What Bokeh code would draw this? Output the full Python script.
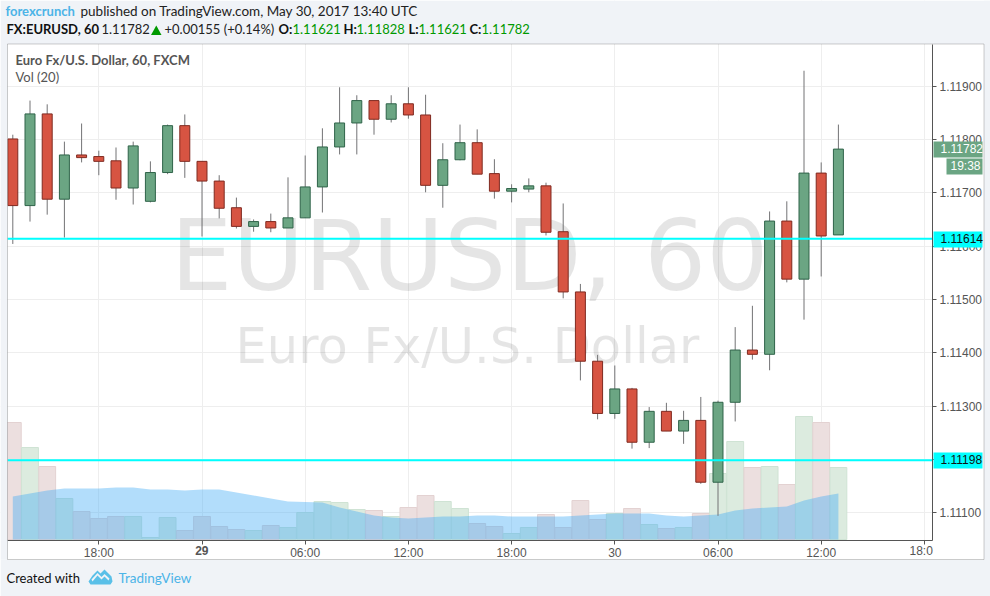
from bokeh.embed import file_html
from bokeh.resources import INLINE
from bokeh.plotting import figure
from bokeh.models import (ColumnDataSource, Range1d, FixedTicker, NumeralTickFormatter,
                          Label, BoxAnnotation, PolyAnnotation)

opens = [1.11801,1.11676,1.11848,1.11688,1.11771,1.11768,1.11760,1.11709,1.11684,1.11738,1.11826,1.11759,1.11722,1.11672,1.11637,1.11646,1.11634,1.11653,1.11711,1.11786,1.11831,1.11873,1.11838,1.11867,1.11846,1.11714,1.11762,1.11794,1.11736,1.11703,1.11707,1.11713,1.11627,1.11514,1.11384,1.11286,1.11332,1.11232,1.11290,1.11253,1.11273,1.11157,1.11307,1.11405,1.11397,1.11647,1.11538,1.11737,1.11621]
highs = [1.11809,1.11873,1.11866,1.11796,1.11830,1.11779,1.11785,1.11796,1.11759,1.11828,1.11847,1.11759,1.11733,1.11691,1.11650,1.11661,1.11729,1.11770,1.11821,1.11898,1.11883,1.11873,1.11883,1.11898,1.11884,1.11793,1.11828,1.11819,1.11763,1.11716,1.11727,1.11719,1.11680,1.11529,1.11396,1.11376,1.11334,1.11298,1.11306,1.11291,1.11317,1.11310,1.11448,1.11488,1.11665,1.11684,1.11929,1.11757,1.11828]
lows = [1.11604,1.11646,1.11659,1.11616,1.11757,1.11733,1.11687,1.11678,1.11682,1.11735,1.11728,1.11618,1.11652,1.11633,1.11627,1.11626,1.11634,1.11653,1.11663,1.11772,1.11772,1.11809,1.11832,1.11839,1.11701,1.11672,1.11761,1.11735,1.11689,1.11682,1.11701,1.11620,1.11502,1.11348,1.11275,1.11276,1.11220,1.11221,1.11253,1.11229,1.11154,1.11094,1.11271,1.11387,1.11367,1.11532,1.11462,1.11543,1.11621]
closes = [1.11676,1.11848,1.11688,1.11771,1.11766,1.11759,1.11709,1.11788,1.11738,1.11826,1.11759,1.11722,1.11671,1.11637,1.11646,1.11634,1.11653,1.11711,1.11786,1.11831,1.11873,1.11838,1.11867,1.11846,1.11714,1.11762,1.11794,1.11735,1.11703,1.11708,1.11713,1.11626,1.11514,1.11384,1.11286,1.11332,1.11232,1.11290,1.11253,1.11273,1.11157,1.11307,1.11405,1.11397,1.11647,1.11538,1.11737,1.11619,1.11782]
volume = [117,92,73,41,28,21,23,23,2,22,9,23,13,10,9,14,12,27,38,37,30,29,23,32,44,38,31,16,13,6,12,25,12,39,20,26,31,15,11,12,26,66,98,72,73,55,123,117,72]
vol_ma = [43,46,49,51,51,51,52,52,50,50,49,50,50,47,44,41,38,37.5,37,32,28,24,22,21,22,23,23,24,24,23,23,23,23,24,25,26,26,26,24,23,24,25,29,31,32,33,39,43,46]
hours = list(range(len(opens)))
x_ticks = [5,11,17,23,29,35,41,47,53]
x_labels = ["18:00","","06:00","12:00","18:00","30","06:00","12:00",""]
y_ticks = [1.111,1.112,1.113,1.114,1.115,1.116,1.117,1.118,1.119]
levels = [1.11614,1.11198]

BG="#f0f3f7"; GREEN="#6ba583"; RED="#d75442"; GBORD="#2f6349"; RBORD="#7f2a20"; AX="#555555"
F="Liberation Sans"; HF="Lato"; WM="DejaVu Sans"

PX_PER_HOUR=17.2; X0=12.3            # pixel of candle 0
PX_PER_PRICE=53300.0; Y0=85.7        # pixel of 1.119
x_at=lambda px:(px-X0)/PX_PER_HOUR
y_at=lambda px:1.119-(px-Y0)/PX_PER_PRICE
PANE_L,PANE_R,PANE_T,PANE_B=7,932,44,540

p = figure(width=990, height=596, output_backend="svg", toolbar_location=None,
           x_range=Range1d(x_at(0),x_at(990)), y_range=Range1d(y_at(596),y_at(0)),
           y_axis_location="right", min_border=0, frame_width=990, frame_height=596,
           border_fill_color=BG, background_fill_color="white", outline_line_color=None)
p.extra_y_ranges = {"vol":Range1d(-(596-539),539)}

for ax in (p.xaxis[0],p.yaxis[0]):
    ax.axis_line_color=AX; ax.major_tick_line_color=AX; ax.major_tick_out=4; ax.major_tick_in=0
    ax.minor_tick_line_color=None; ax.major_label_text_color=AX
    ax.major_label_text_font=F; ax.major_label_text_font_size="12px"
p.xaxis[0].fixed_location=y_at(PANE_B); p.yaxis[0].fixed_location=x_at(PANE_R)
p.xaxis[0].bounds=(x_at(PANE_L),x_at(PANE_R)); p.yaxis[0].bounds=(y_at(PANE_B),y_at(PANE_T))
p.xaxis[0].ticker=FixedTicker(ticks=x_ticks)
p.xaxis[0].major_label_overrides=dict(zip(x_ticks,x_labels))
p.xaxis[0].major_label_standoff=1
p.yaxis[0].ticker=FixedTicker(ticks=y_ticks)
p.yaxis[0].formatter=NumeralTickFormatter(format="0.00000")
p.yaxis[0].major_label_standoff=3
p.xgrid.ticker=FixedTicker(ticks=x_ticks); p.ygrid.ticker=FixedTicker(ticks=y_ticks)
p.xgrid.grid_line_color="#eeeeee"; p.ygrid.grid_line_color="#eeeeee"

def box(x0,x1,y0,y1,color=None,level="annotation",line=None):
    p.add_layout(BoxAnnotation(left=x0,right=x1,top=y0,bottom=y1,left_units="canvas",right_units="canvas",
        top_units="canvas",bottom_units="canvas",fill_color=color,fill_alpha=1 if color else 0,line_color=line,line_width=1,level=level))

def lab(text,x,y,color="#111111",size=13,font=HF,style="normal",align="left",level="annotation",alpha=1.0):
    # y is the wanted baseline; the label's box sits lower by about 0.4 of the size
    l=Label(text=text,x=x,y=y-0.4*size,x_units="canvas",y_units="canvas",text_color=color,text_font_size=f"{size}px",
            text_font=font,text_font_style=style,text_align=align,text_baseline="alphabetic",level=level,text_alpha=alpha)
    p.add_layout(l); return l

box(0,990,0,43.5,BG,"underlay"); box(0,990,559,596,BG,"underlay"); box(983.5,990,0,596,BG,"underlay")
box(PANE_R,983.5,43.5,559,"white","underlay"); box(7,983.5,PANE_B,559,"white","underlay")

lab("EURUSD, 60",170,295,"#000000",98,WM,level="underlay",alpha=0.1)
lab("Euro Fx/U.S. Dollar",235,365,"#000000",49.5,WM,level="underlay",alpha=0.1)

src = ColumnDataSource(dict(x=hours,o=opens,h=highs,l=lows,c=closes,v=volume,ma=vol_ma,
    body_top=[max(a,b) for a,b in zip(opens,closes)], body_bot=[min(a,b) for a,b in zip(opens,closes)],
    zero=[0]*len(hours),
    fill=[GREEN if c>=o else RED for o,c in zip(opens,closes)],
    edge=[GBORD if c>=o else RBORD for o,c in zip(opens,closes)],
    vfill=["#dcebdf" if c>=o else "#ecdfdf" for o,c in zip(opens,closes)],
    vedge=["#cfe3d4" if c>=o else "#e3d2d2" for o,c in zip(opens,closes)]))

p.vbar(x="x",top="v",bottom="zero",width=0.98,fill_color="vfill",line_color="vedge",source=src,y_range_name="vol")
p.varea(x="x",y1="zero",y2="ma",fill_color="#3fa9f5",fill_alpha=0.4,source=src,y_range_name="vol")
p.segment(x0="x",x1="x",y0="l",y1="h",line_color="#737375",line_width=1,source=src)
p.vbar(x="x",top="body_top",bottom="body_bot",width=0.58,fill_color="fill",line_color="edge",line_width=1,source=src)

p.segment(x0=[x_at(PANE_L)]*len(levels),x1=[x_at(PANE_R)]*len(levels),y0=levels,y1=levels,line_color="#00ffff",line_width=2)

box(0,7,43.5,559,BG,"overlay")
box(7,983.5,43.5,559,None,"overlay",AX)

lab("29",201.3,555,AX,12,F,"bold","center")
lab("18:0",909,555,AX,12,F)

box(933,982,231,247,"#00ffff"); lab("1.11614",940,243,"#111111",12,F)
box(933,982,452,468,"#00ffff"); lab("1.11198",940,464,"#111111",12,F)
box(933,982,141,157,GREEN); lab("1.11782",940,153,"#ffffff",12,F)
box(946,982,158,174,GREEN); lab("19:38",950,170,"#ffffff",12,F)

lab("forexcrunch",5,16,"#4cb4e7",13,HF,"bold")
lab("published on TradingView.com, May 30, 2017 13:40 UTC",80,16,"#222222",13.5)
lab("FX:EURUSD, 60",6,34,"#111111",13,HF,"bold")
lab("1.11782",101,34,"#222222",13)
p.add_layout(PolyAnnotation(xs=[150.5,161,155.8],ys=[34.5,34.5,25],xs_units="canvas",ys_units="canvas",fill_color="#009900",fill_alpha=1,line_color=None))
lab("+0.00155 (+0.14%)",164,34,"#222222",13)
for t,x,vx,val in [("O:",278,292,"1.11621"),("H:",343,356,"1.11828"),("L:",408,418,"1.11621"),("C:",469,481,"1.11782")]:
    lab(t,x,34,"#111111",13,HF,"bold"); lab(val,vx,34,"#009900",13)
lab("Euro Fx/U.S. Dollar, 60, FXCM",15,65,"#555555",13,HF,"bold")
lab("Vol (20)",15,82,"#555555",13)

lab("Created with",6,583,"#111111",13)
lab("TradingView",118,583,"#4cb4e7",13.5)
p.add_layout(PolyAnnotation(xs=[88,92,97,100,104,107,111,112,110,90],ys=[581,575,570,573,569,572,576,581,584,584],xs_units="canvas",ys_units="canvas",fill_color="#5ac0e8",fill_alpha=1,line_color=None))
p.add_layout(PolyAnnotation(xs=[91,97,101,104,109,108,104,101,97,92],ys=[579,572.5,576.5,573.5,578,580,576,579,575,581],xs_units="canvas",ys_units="canvas",fill_color=BG,fill_alpha=1,line_color=None))

open("out.html","w").write(file_html(p,INLINE))
